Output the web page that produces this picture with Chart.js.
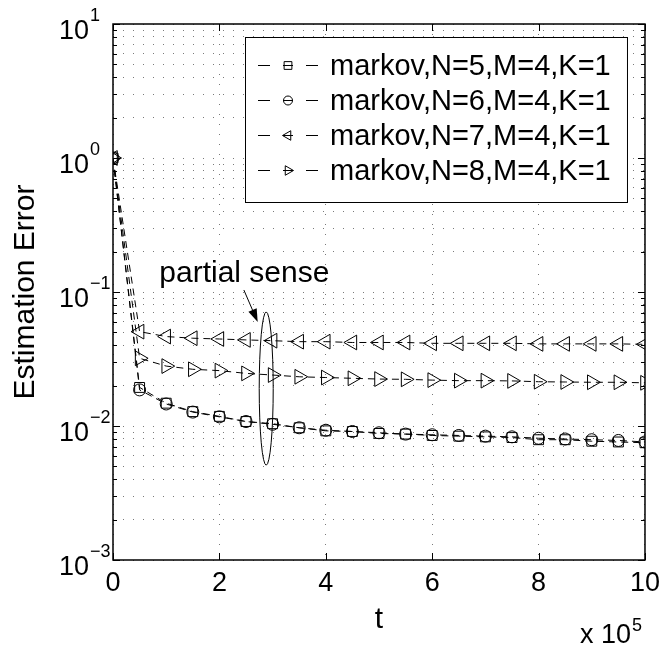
<!DOCTYPE html>
<html>
<head>
<meta charset="utf-8">
<title>Estimation Error vs t</title>
<script src="https://cdn.jsdelivr.net/npm/chart.js@4.4.1/dist/chart.umd.min.js"></script>
<style>
    body { margin: 0; background: #fff; }
    #errChart { display: block; }
</style>
</head>
<body>
<canvas id="errChart" width="667" height="648"></canvas>
<script>
// sample times, in units of 10^5
const tValues = [0, 0.5, 1, 1.5, 2, 2.5, 3, 3.5, 4, 4.5, 5, 5.5, 6, 6.5, 7, 7.5, 8, 8.5, 9, 9.5, 10];

// estimation error per setting
const errN5 = [1.0, 0.0194, 0.0148, 0.0128, 0.0118, 0.0108, 0.0104, 0.0097, 0.0092, 0.0091, 0.0088,
    0.0087, 0.0085, 0.0084, 0.0083, 0.0082, 0.0079, 0.0079, 0.0077, 0.0076, 0.0075];
const errN6 = [1.0, 0.0186, 0.0146, 0.0127, 0.0117, 0.0108, 0.0103, 0.0097, 0.0093, 0.0091, 0.0089,
    0.0087, 0.0086, 0.0085, 0.0084, 0.0083, 0.0081, 0.0080, 0.0079, 0.0078, 0.0076];
const errN7 = [1.0, 0.0506, 0.0465, 0.0452, 0.0446, 0.0439, 0.0433, 0.0426, 0.0426, 0.0420, 0.0420,
    0.0420, 0.0414, 0.0414, 0.0414, 0.0414, 0.0410, 0.0410, 0.0410, 0.0410, 0.0407];
const errN8 = [1.0, 0.0320, 0.0280, 0.0265, 0.0259, 0.0247, 0.0240, 0.0233, 0.0230, 0.0227, 0.0224,
    0.0223, 0.0220, 0.0218, 0.0218, 0.0217, 0.0214, 0.0213, 0.0212, 0.0212, 0.0210];

const seriesLabels = ["markov,N=5,M=4,K=1", "markov,N=6,M=4,K=1", "markov,N=7,M=4,K=1", "markov,N=8,M=4,K=1"];

// axis ticks
const xTicks = [0, 2, 4, 6, 8, 10];
const yDecades = [-3, -2, -1, 0, 1];
const yMinorSteps = [2, 3, 4, 5, 6, 7, 8, 9];

const FONT = "'Liberation Sans', Arial, Helvetica, sans-serif";

// gridline values for the log axis: each decade plus its 2..9 multiples
const yTickValues = [];
yDecades.forEach(function (d) {
    yTickValues.push({ value: Math.pow(10, d), major: true });
    if (d < yDecades[yDecades.length - 1]) {
        yMinorSteps.forEach(function (m) {
            yTickValues.push({ value: m * Math.pow(10, d), major: false });
        });
    }
});

function series(label, values, style, rotation, radius) {
    return {
        label: label,
        data: tValues.map((t, i) => ({ x: t, y: values[i] })),
        borderColor: "#000",
        borderWidth: 1,
        borderDash: [7, 5],
        pointStyle: style,
        rotation: rotation,
        pointRadius: radius,
        pointBorderColor: "#000",
        pointBackgroundColor: "rgba(0,0,0,0)",
        pointBorderWidth: 1,
        tension: 0,
    };
}

// ticks pointing inward, frame, 10^n labels and the x 10^5 note
const axisDecor = {
    id: "axisDecor",
    afterDraw(chart) {
        const ctx = chart.ctx;
        const a = chart.chartArea;
        const x = chart.scales.x;
        const y = chart.scales.y;
        ctx.save();
        ctx.strokeStyle = "#000";
        ctx.lineWidth = 1;
        ctx.setLineDash([]);
        ctx.beginPath();
        y.ticks.forEach(function (t) {
            const py = Math.round(y.getPixelForValue(t.value)) + 0.5;
            const len = t.major ? 7 : 4;
            ctx.moveTo(a.left, py); ctx.lineTo(a.left + len, py);
            ctx.moveTo(a.right, py); ctx.lineTo(a.right - len, py);
        });
        x.ticks.forEach(function (t) {
            const px = Math.round(x.getPixelForValue(t.value)) + 0.5;
            ctx.moveTo(px, a.bottom); ctx.lineTo(px, a.bottom - 7);
            ctx.moveTo(px, a.top); ctx.lineTo(px, a.top + 7);
        });
        ctx.stroke();
        ctx.lineWidth = 1.5;
        ctx.strokeRect(a.left, a.top, a.right - a.left, a.bottom - a.top);

        ctx.fillStyle = "#000";
        ctx.textBaseline = "alphabetic";
        yDecades.forEach(function (d) {
            const py = y.getPixelForValue(Math.pow(10, d));
            ctx.font = "27px " + FONT;
            ctx.textAlign = "right";
            ctx.fillText("10", a.left - 24, py + 15);
            ctx.font = "18px " + FONT;
            ctx.textAlign = "left";
            ctx.fillText(d < 0 ? "\u2212" + (-d) : String(d), a.left - 23, py - 3);
        });

        ctx.font = "27px " + FONT;
        ctx.textAlign = "left";
        const base = "x 10";
        const bx = a.right - 65;
        ctx.fillText(base, bx, 643);
        const bw = ctx.measureText(base).width;
        ctx.font = "18px " + FONT;
        ctx.fillText("5", bx + bw + 1, 631);
        ctx.restore();
    }
};

// "partial sense" note with arrow and ellipse
const partialNote = {
    id: "partialNote",
    afterDatasetsDraw(chart) {
        const ctx = chart.ctx;
        const x = chart.scales.x;
        const y = chart.scales.y;
        ctx.save();
        ctx.fillStyle = "#000";
        ctx.strokeStyle = "#000";
        ctx.lineWidth = 1;
        ctx.setLineDash([]);
        ctx.font = "30px " + FONT;
        ctx.textAlign = "left";
        ctx.textBaseline = "alphabetic";
        ctx.fillText("partial sense", x.getPixelForValue(0.87), y.getPixelForValue(0.119));

        const cx = x.getPixelForValue(2.88);
        const top = y.getPixelForValue(0.071);
        const bottom = y.getPixelForValue(0.0051);
        ctx.beginPath();
        ctx.ellipse(cx, (top + bottom) / 2, 7, (bottom - top) / 2, 0, 0, Math.PI * 2);
        ctx.stroke();

        const x0 = x.getPixelForValue(2.46), y0 = y.getPixelForValue(0.1035);
        const x1 = x.getPixelForValue(2.72), y1 = y.getPixelForValue(0.0597);
        const ang = Math.atan2(y1 - y0, x1 - x0);
        ctx.beginPath();
        ctx.moveTo(x0, y0);
        ctx.lineTo(x1 - 10 * Math.cos(ang), y1 - 10 * Math.sin(ang));
        ctx.stroke();
        ctx.beginPath();
        ctx.moveTo(x1, y1);
        ctx.lineTo(x1 - 13 * Math.cos(ang) + 4.5 * Math.sin(ang), y1 - 13 * Math.sin(ang) - 4.5 * Math.cos(ang));
        ctx.lineTo(x1 - 13 * Math.cos(ang) - 4.5 * Math.sin(ang), y1 - 13 * Math.sin(ang) + 4.5 * Math.cos(ang));
        ctx.closePath();
        ctx.fill();
        ctx.restore();
    }
};

// matlab style legend box in the upper right corner
const boxLegend = {
    id: "boxLegend",
    afterDraw(chart) {
        const ctx = chart.ctx;
        const a = chart.chartArea;
        const left = a.left + 132, right = a.right - 18, top = a.top + 13, height = 165;
        const radii = [5.5, 4.5, 5.5, 5.5];
        ctx.save();
        ctx.setLineDash([]);
        ctx.fillStyle = "#fff";
        ctx.fillRect(left, top, right - left, height);
        ctx.strokeStyle = "#000";
        ctx.lineWidth = 1;
        ctx.strokeRect(left + 0.5, top + 0.5, right - left, height);
        chart.data.datasets.forEach(function (ds, i) {
            const cy = Math.round(top + 28 + 35 * i) + 0.5;
            ctx.beginPath();
            ctx.moveTo(left + 13, cy); ctx.lineTo(left + 25, cy);
            ctx.moveTo(left + 38, cy); ctx.lineTo(left + 48, cy);
            ctx.moveTo(left + 61, cy); ctx.lineTo(left + 73, cy);
            ctx.stroke();
            ctx.fillStyle = "rgba(0,0,0,0)";
            Chart.helpers.drawPoint(ctx, {
                pointStyle: ds.pointStyle, rotation: ds.rotation, radius: radii[i], borderWidth: 1
            }, left + 43, cy);
            ctx.fillStyle = "#000";
            ctx.font = "29px " + FONT;
            ctx.textAlign = "left";
            ctx.textBaseline = "middle";
            ctx.fillText(ds.label, left + 85, cy + 1);
        });
        ctx.restore();
    }
};

const ctx = document.getElementById("errChart").getContext("2d");
new Chart(ctx, {
    type: "line",
    data: {
        datasets: [
            series(seriesLabels[0], errN5, "rect", 0, 7),
            series(seriesLabels[1], errN6, "circle", 0, 6),
            series(seriesLabels[2], errN7, "triangle", -90, 8.5),
            series(seriesLabels[3], errN8, "triangle", 90, 8.5),
        ],
    },
    options: {
        responsive: false,
        animation: false,
        layout: { padding: { top: 24, right: 19, left: 0, bottom: 0 } },
        plugins: {
            legend: { display: false },
            tooltip: { enabled: false },
        },
        scales: {
            x: {
                type: "linear",
                min: 0,
                max: 10,
                afterBuildTicks: (scale) => { scale.ticks = xTicks.map(v => ({ value: v, major: true })); },
                afterFit: (scale) => { scale.height = 88; },
                ticks: {
                    color: "#000",
                    padding: 7,
                    font: { family: FONT, size: 27 },
                    callback: (v) => String(v),
                },
                grid: { color: "#7a7a7a", lineWidth: 1, drawTicks: false },
                border: { display: false, dash: [1, 9] },
                title: {
                    display: true,
                    text: "t",
                    color: "#000",
                    font: { family: FONT, size: 30 },
                    padding: { top: 0, bottom: 10 },
                },
            },
            y: {
                type: "logarithmic",
                min: 0.001,
                max: 10,
                afterBuildTicks: (scale) => { scale.ticks = yTickValues.map(t => ({ value: t.value, major: t.major })); },
                afterFit: (scale) => { scale.width = 113; },
                ticks: { display: false },
                grid: { color: "#7a7a7a", lineWidth: 1, drawTicks: false },
                border: { display: false, dash: [1, 9] },
                title: {
                    display: true,
                    text: "Estimation Error",
                    color: "#000",
                    font: { family: FONT, size: 30 },
                    padding: { top: 8, bottom: 0 },
                },
            },
        },
    },
    plugins: [partialNote, axisDecor, boxLegend],
});
</script>
</body>
</html>
